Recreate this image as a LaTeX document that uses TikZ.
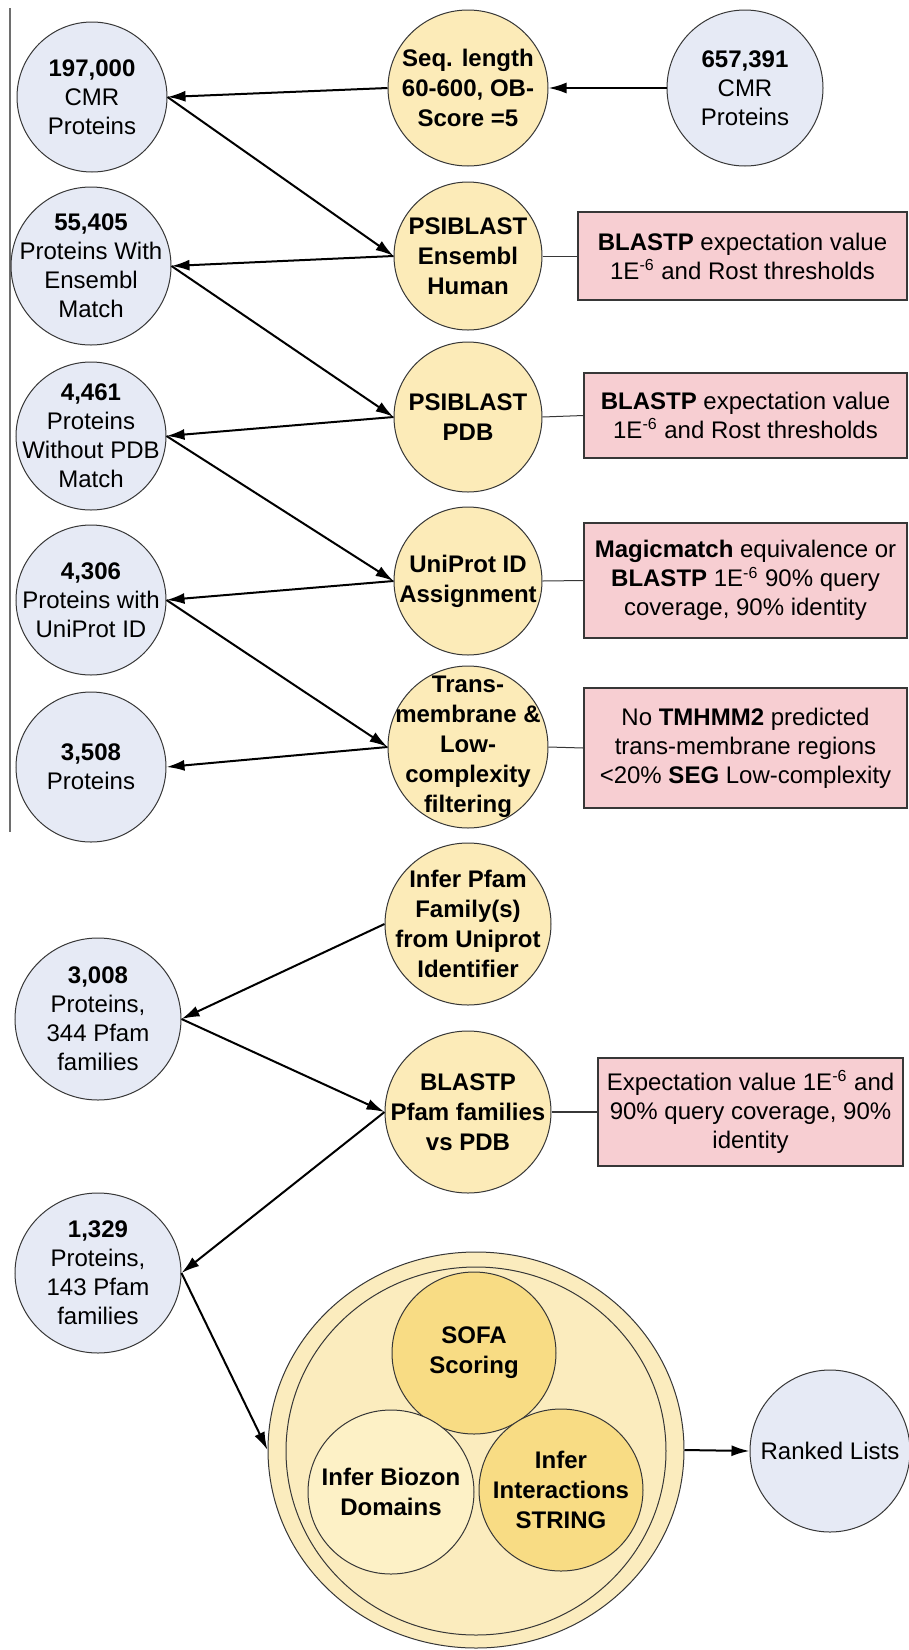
\documentclass[tikz,border=0pt]{standalone}
\usepackage{fontspec}
\setmainfont{Liberation Sans}
\usetikzlibrary{shapes.geometric,arrows.meta}
\definecolor{bluefill}{RGB}{230,234,245}
\definecolor{goldfill}{RGB}{252,235,184}
\definecolor{pinkfill}{RGB}{247,206,210}
\definecolor{darkgold}{RGB}{248,220,132}
\definecolor{lightgold}{RGB}{253,241,198}
\definecolor{outergold}{RGB}{251,236,190}
\definecolor{edgegray}{RGB}{55,55,55}
\definecolor{rulegray}{RGB}{110,110,110}
\begin{document}
\begin{tikzpicture}[x=0.5pt,y=-0.5pt,
  btext/.style={align=center,inner sep=0,font=\fontsize{12}{14.5}\selectfont},
  gtext/.style={align=center,inner sep=0,font=\fontsize{12}{15}\selectfont\bfseries},
  blobb/.style={ellipse,draw=edgegray,line width=0.5pt,fill=bluefill,inner sep=0},
  blobg/.style={ellipse,draw=edgegray,line width=0.5pt,fill=goldfill,inner sep=0},
  pinkbox/.style={rectangle,draw=edgegray,line width=0.6pt,fill=pinkfill,align=center,inner sep=0,font=\fontsize{12}{14.5}\selectfont},
  flow/.style={-{Latex[length=9pt,width=5.5pt]},line width=1pt},
  link/.style={line width=0.5pt,draw=edgegray}
]
\useasboundingbox (0,0) rectangle (909,1650);
\fill[white] (0,0) rectangle (909,1650);
\draw[rulegray,line width=0.7pt] (10,8) -- (10,832);

% left column
\node[blobb,minimum width=75pt,minimum height=75pt,label={[btext]center:{\textbf{197,000}\\CMR\\Proteins}}] (b1) at (92,97) {};
\node[blobb,minimum width=80pt,minimum height=79pt,label={[btext]center:{\textbf{55,405}\\Proteins With\\Ensembl\\Match}}] (b2) at (91,266) {};
\node[blobb,minimum width=75pt,minimum height=74pt,label={[btext]center:{\textbf{4,461}\\Proteins\\Without PDB\\Match}}] (b3) at (91,436) {};
\node[blobb,minimum width=75pt,minimum height=75pt,label={[btext]center:{\textbf{4,306}\\Proteins with\\UniProt ID}}] (b4) at (91,600) {};
\node[blobb,minimum width=75pt,minimum height=75pt,label={[btext]center:{\textbf{3,508}\\Proteins}}] (b5) at (91,767) {};
\node[blobb,minimum width=83pt,minimum height=81pt,label={[btext]center:{\textbf{3,008}\\Proteins,\\344 Pfam\\families}}] (b6) at (98,1019) {};
\node[blobb,minimum width=83pt,minimum height=80pt,label={[btext]center:{\textbf{1,329}\\Proteins,\\143 Pfam\\families}}] (b7) at (98,1273) {};
\node[blobb,minimum width=78pt,minimum height=78pt,label={[btext]center:{\textbf{657,391}\\CMR\\Proteins}}] (b8) at (745,88) {};
\node[blobb,minimum width=80pt,minimum height=81pt,label={[btext]center:{Ranked Lists}}] (b9) at (830,1451) {};

% middle column
\node[blobg,minimum width=80pt,minimum height=78pt,label={[gtext]center:{Seq. length\\60-600, OB-\\Score =5}}] (g1) at (468,88) {};
\node[blobg,minimum width=74pt,minimum height=74pt,label={[gtext]center:{PSIBLAST\\Ensembl\\Human}}] (g2) at (468,256) {};
\node[blobg,minimum width=74pt,minimum height=75pt,label={[gtext]center:{PSIBLAST\\PDB}}] (g3) at (468,417) {};
\node[blobg,minimum width=74pt,minimum height=74pt,label={[gtext]center:{UniProt ID\\Assignment}}] (g4) at (468,581) {};
\node[blobg,minimum width=80pt,minimum height=81pt,label={[gtext]center:{Trans-\\membrane \&\\Low-\\complexity\\filtering}}] (g5) at (468,747) {};
\node[blobg,minimum width=83pt,minimum height=81pt,label={[gtext]center:{Infer Pfam\\Family(s)\\from Uniprot\\Identifier}}] (g6) at (468,924) {};
\node[blobg,minimum width=83pt,minimum height=81pt,label={[gtext]center:{BLASTP\\Pfam families\\vs PDB}}] (g7) at (468,1112) {};

% pink boxes
\node[pinkbox,minimum width=164.5pt,minimum height=44pt] (p1) at (742.5,256) {\textbf{BLASTP} expectation value\\1E\textsuperscript{-6} and Rost thresholds};
\node[pinkbox,minimum width=161.5pt,minimum height=42.5pt] (p2) at (745.5,415.5) {\textbf{BLASTP} expectation value\\1E\textsuperscript{-6} and Rost thresholds};
\node[pinkbox,minimum width=161.5pt,minimum height=57.5pt] (p3) at (745.5,580.5) {\textbf{Magicmatch} equivalence or\\\textbf{BLASTP} 1E\textsuperscript{-6} 90\% query\\coverage, 90\% identity};
\node[pinkbox,minimum width=161.5pt,minimum height=60pt] (p4) at (745.5,748) {No \textbf{TMHMM2} predicted\\trans-membrane regions\\<20\% \textbf{SEG} Low-complexity};
\node[pinkbox,minimum width=152.5pt,minimum height=54pt] (p5) at (750.5,1112) {Expectation value 1E\textsuperscript{-6} and\\90\% query coverage, 90\%\\identity};

% big group
\node[ellipse,draw=edgegray,line width=0.5pt,fill=outergold,inner sep=0,minimum width=208pt,minimum height=198pt] (outer) at (476,1450) {};
\node[ellipse,draw=edgegray,line width=0.5pt,fill=outergold,inner sep=0,minimum width=190pt,minimum height=184pt] (inner) at (476,1451) {};
\node[ellipse,draw=edgegray,line width=0.5pt,fill=darkgold,inner sep=0,minimum width=82pt,minimum height=81pt,label={[gtext]center:{SOFA\\Scoring}}] (sofa) at (474,1353) {};
\node[ellipse,draw=edgegray,line width=0.5pt,fill=lightgold,inner sep=0,minimum width=83pt,minimum height=82pt,label={[gtext]center:{Infer Biozon\\Domains}}] (biozon) at (391,1492) {};
\node[ellipse,draw=edgegray,line width=0.5pt,fill=darkgold,inner sep=0,minimum width=82pt,minimum height=81pt,label={[gtext]center:{Infer\\Interactions\\STRING}}] (inter) at (561,1490) {};

% arrows
\draw[flow] (b8.west) -- (g1.east);
\draw[flow] (g1.west) -- (b1.east);
\draw[flow] (b1.east) -- (g2.west);
\draw[flow] (g2.west) -- (b2.east);
\draw[flow] (b2.east) -- (g3.west);
\draw[flow] (g3.west) -- (b3.east);
\draw[flow] (b3.east) -- (g4.west);
\draw[flow] (g4.west) -- (b4.east);
\draw[flow] (b4.east) -- (g5.west);
\draw[flow] (g5.west) -- (b5.east);
\draw[flow] (g6.west) -- (b6.east);
\draw[flow] (b6.east) -- (g7.west);
\draw[flow] (g7.west) -- (b7.east);
\draw[flow] (b7.east) -- (outer.west);
\draw[flow] (outer.east) -- (b9.west);

% links to boxes
\draw[link] (g2.east) -- (p1.west);
\draw[link] (g3.east) -- (p2.west);
\draw[link] (g4.east) -- (p3.west);
\draw[link] (g5.east) -- (p4.west);
\draw[link,line width=1pt] (g7.east) -- (p5.west);
\end{tikzpicture}
\end{document}
